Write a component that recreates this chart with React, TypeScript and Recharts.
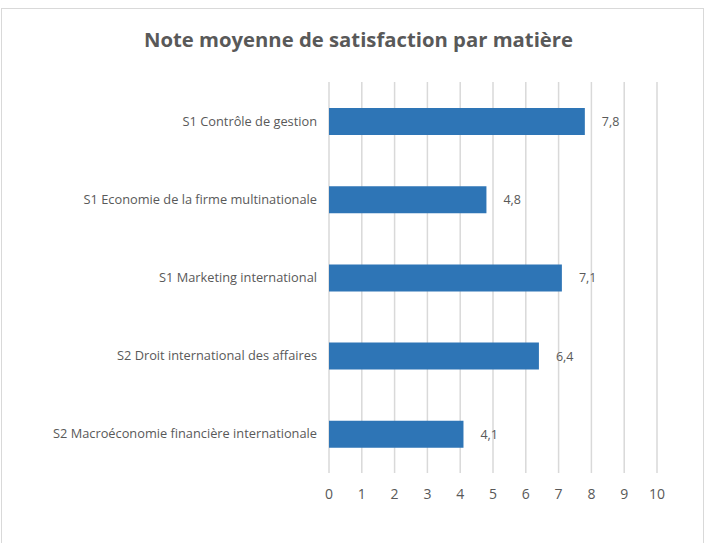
import React from "react";
import { BarChart, Bar, XAxis, YAxis, CartesianGrid, LabelList } from "recharts";

const categories = [
  "S1 Contrôle de gestion",
  "S1 Economie de la firme multinationale",
  "S1 Marketing international",
  "S2 Droit international des affaires",
  "S2 Macroéconomie financière internationale",
];
const values = [7.8, 4.8, 7.1, 6.4, 4.1];
const xTicks = [0, 1, 2, 3, 4, 5, 6, 7, 8, 9, 10];
const title = "Note moyenne de satisfaction par matière";

const data = categories.map((name, i) => ({ name, value: values[i] }));
const FONT = "'Open Sans', sans-serif";

export default function App() {
  return (
    <div
      style={{
        position: "absolute",
        left: 1,
        top: 8,
        width: 701,
        height: 540,
        border: "1px solid #d9d9d9",
        borderBottom: "none",
        background: "#fff",
        fontFamily: FONT,
      }}
    >
      <div
        style={{
          position: "absolute",
          top: 17,
          left: 0,
          width: "100%",
          paddingLeft: 12,
          boxSizing: "border-box",
          textAlign: "center",
          fontSize: 20.3,
          fontWeight: 700,
          color: "#595959",
          lineHeight: "26px",
        }}
      >
        {title}
      </div>
      <div style={{ position: "absolute", left: 0, top: 0 }}>
        <BarChart
          width={701}
          height={530}
          data={data}
          layout="vertical"
          margin={{ top: 73, right: 46, bottom: 36, left: 0 }}
          barCategoryGap="0%"
        >
          <CartesianGrid horizontal={false} vertical={true} stroke="#d9d9d9" strokeWidth={1.5} />
          <XAxis
            type="number"
            domain={[0, 10]}
            ticks={xTicks}
            interval={0}
            axisLine={false}
            tickLine={false}
            tickMargin={10}
            height={30}
            tick={{ fill: "#595959", fontSize: 14, fontFamily: FONT }}
          />
          <YAxis
            type="category"
            dataKey="name"
            width={327}
            axisLine={false}
            tickLine={false}
            tickMargin={6}
            interval={0}
            tick={{ fill: "#595959", fontSize: 12.8, fontFamily: FONT }}
          />
          <Bar dataKey="value" fill="#2E75B6" barSize={27} isAnimationActive={false}>
            <LabelList
              dataKey="value"
              position="right"
              offset={17}
              fill="#595959"
              fontSize={12.5}
              fontFamily={FONT}
              formatter={(v: any) => String(v).replace(".", ",")}
            />
          </Bar>
        </BarChart>
      </div>
    </div>
  );
}
